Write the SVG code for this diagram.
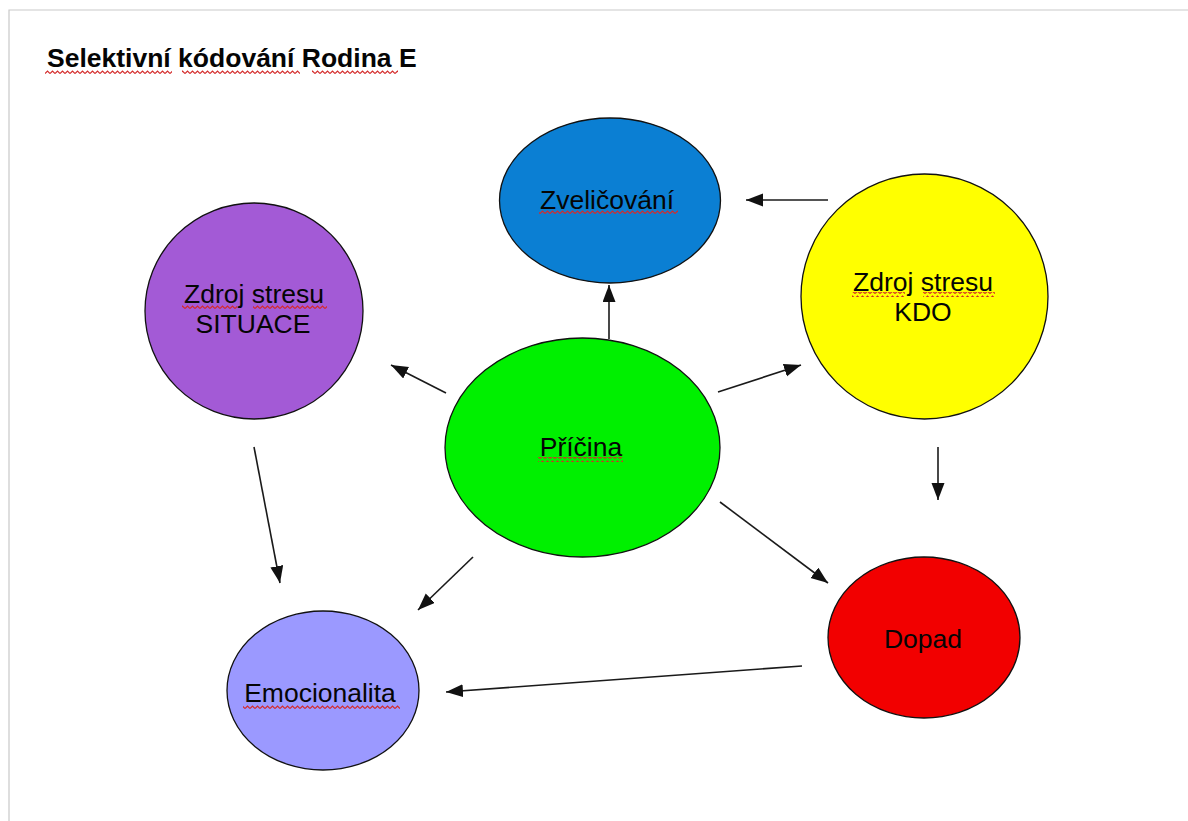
<svg xmlns="http://www.w3.org/2000/svg" width="1188" height="821" viewBox="0 0 1188 821">
  <style>
    .node { stroke: #111; stroke-width: 1.3; }
    .label { font-family: "Liberation Sans", Arial, sans-serif; font-size: 26.5px; fill: #050505; text-anchor: middle; }
    .title { font-family: "Liberation Sans", Arial, sans-serif; font-size: 26.5px; font-weight: bold; fill: #050505; }
    .edge { stroke: #1a1a1a; stroke-width: 1.6; fill: none; marker-end: url(#head); }
    .spell { fill: url(#squiggle); }
  </style>
  <defs>
    <marker id="head" markerUnits="userSpaceOnUse" markerWidth="18" markerHeight="14" refX="17" refY="6.5" orient="auto">
      <path d="M0,0 L17,6.5 L0,13 z" fill="#111"/>
    </marker>
    <!-- wavy spell-check underline -->
    <pattern id="squiggle" patternUnits="userSpaceOnUse" width="5" height="5">
      <path d="M0,3.5 L2.5,1 L5,3.5" fill="none" stroke="#d42a2a" stroke-width="1.2"/>
    </pattern>
  </defs>

  <rect x="0" y="0" width="1188" height="821" fill="#ffffff"/>
  <!-- page edge -->
  <path d="M9,821 L9,10 L1188,10" fill="none" stroke="#c9c9c9" stroke-width="1.2"/>

  <!-- heading -->
  <g id="title">
    <text class="title" x="47" y="67">Selektivní kódování Rodina E</text>
    <rect class="spell" x="45" y="69" width="127" height="5"/>
    <rect class="spell" x="182" y="69" width="118" height="5"/>
    <rect class="spell" x="312" y="69" width="86" height="5"/>
  </g>

  <!-- connectors -->
  <g id="connectors">
    <line class="edge" x1="828" y1="200" x2="746" y2="200"/>
    <line class="edge" x1="609" y1="339" x2="609" y2="285"/>
    <line class="edge" x1="446" y1="393" x2="391" y2="365"/>
    <line class="edge" x1="718" y1="392" x2="801" y2="365"/>
    <line class="edge" x1="720" y1="502" x2="828" y2="583"/>
    <line class="edge" x1="473" y1="557" x2="418" y2="610"/>
    <line class="edge" x1="254" y1="447" x2="280" y2="583"/>
    <line class="edge" x1="938" y1="447" x2="938" y2="500"/>
    <line class="edge" x1="802" y1="666" x2="446" y2="692"/>
  </g>

  <g id="node-zvelicovani">
    <ellipse class="node" cx="610" cy="200.5" rx="110.5" ry="82.5" fill="#0b7fd3"/>
    <text class="label" x="607" y="209">Zveličování</text>
    <rect class="spell" x="539" y="210" width="139" height="5"/>
  </g>

  <g id="node-zdroj-kdo">
    <ellipse class="node" cx="924.5" cy="296.5" rx="123.5" ry="122.5" fill="#ffff00"/>
    <text class="label" x="923" y="291">Zdroj stresu</text>
    <text class="label" x="923" y="321">KDO</text>
    <rect class="spell" x="852" y="292" width="53" height="5"/>
    <rect class="spell" x="923" y="292" width="72" height="5"/>
  </g>

  <g id="node-zdroj-situace">
    <ellipse class="node" cx="254" cy="311" rx="109" ry="108" fill="#a35ad6"/>
    <text class="label" x="254" y="303">Zdroj stresu</text>
    <text class="label" x="253" y="333">SITUACE</text>
    <rect class="spell" x="182" y="305" width="55" height="5"/>
    <rect class="spell" x="253" y="305" width="74" height="5"/>
  </g>

  <g id="node-pricina">
    <ellipse class="node" cx="582.5" cy="447.5" rx="137.5" ry="109.5" fill="#00f000"/>
    <text class="label" x="581" y="456">Příčina</text>
    <rect class="spell" x="538" y="457" width="85" height="5"/>
  </g>

  <g id="node-dopad">
    <ellipse class="node" cx="924" cy="637.5" rx="96" ry="80.5" fill="#f20000"/>
    <text class="label" x="923" y="648">Dopad</text>
  </g>

  <g id="node-emocionalita">
    <ellipse class="node" cx="323" cy="690.5" rx="96" ry="79.5" fill="#9b99ff"/>
    <text class="label" x="320" y="702">Emocionalita</text>
    <rect class="spell" x="243" y="704" width="157" height="5"/>
  </g>
</svg>
